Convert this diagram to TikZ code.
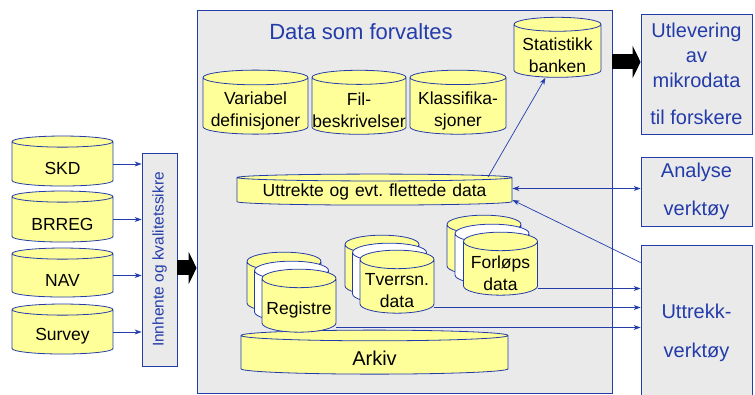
\documentclass[tikz,border=0pt]{standalone}
\usepackage{fontspec}
\setmainfont{Liberation Sans}
\usetikzlibrary{shapes.geometric,arrows.meta}
\definecolor{dbblue}{RGB}{35,60,170}
\definecolor{dbyellow}{RGB}{255,255,153}
\definecolor{dbgray}{RGB}{234,234,234}
\tikzset{
  db/.style={cylinder, shape border rotate=90, draw=dbblue, fill=dbyellow,
    line width=0.8pt, inner sep=0pt, align=center,
    font=\fontsize{17.5}{22}\selectfont},
  dbmid/.style={db, fill=white},
  dbsize/.style 2 args={text width=#1, minimum width=#1, minimum height=#2},
  dbtext/.style={label={[font=\fontsize{17.5}{22}\selectfont, align=center, yshift=-4.5pt]center:#1}},
  panel/.style={rectangle, draw=dbblue, fill=dbgray, line width=0.8pt,
    inner sep=0pt, align=center, text=dbblue},
  flow/.style={draw=dbblue, line width=0.7pt, -{Stealth[length=7pt,width=5pt]}},
  bigarrow/.style={line width=15pt, -{Triangle[length=8pt,width=32pt]}}
}
\begin{document}
\begin{tikzpicture}[x=1pt,y=-1pt]
  \useasboundingbox (0,0) rectangle (755,395);
  % main area
  \node[panel, minimum width=415pt, minimum height=383pt] (main) at (404.5,201.5) {};
  \node[text=dbblue, font=\fontsize{22}{26}\selectfont] (title) at (361,32) {Data som forvaltes};
  % sources
  \node[db, dbsize={101pt}{50pt}, aspect=0.11, dbtext=SKD] (skd) at (62.5,164) {};
  \node[db, dbsize={101pt}{51pt}, aspect=0.11, dbtext=BRREG] (brreg) at (62.5,219.5) {};
  \node[db, dbsize={101pt}{49pt}, aspect=0.11, dbtext=NAV] (nav) at (62.5,275.5) {};
  \node[db, dbsize={101pt}{50pt}, aspect=0.11, dbtext=Survey] (survey) at (62.5,332) {};
  \node[panel, minimum width=35pt, minimum height=213pt] (innh) at (159.5,259.5) {};
  \node[rotate=90, text=dbblue, font=\fontsize{15.5}{18}\selectfont] (innhtxt) at (innh) {Innhente og kvalitetssikre};
  \draw[flow] (skd.east) -- (skd.east -| innh.west);
  \draw[flow] (brreg.east) -- (brreg.east -| innh.west);
  \draw[flow] (nav.east) -- (nav.east -| innh.west);
  \draw[flow] (survey.east) -- (survey.east -| innh.west);
  \coordinate (inleft) at (177,268);
  \draw[bigarrow] (inleft) -- (inleft -| main.west);
  % metadata
  \node[db, dbsize={105pt}{64pt}, aspect=0.14, dbtext={Variabel\\definisjoner}] (var) at (255.5,106) {};
  \node[db, dbsize={94pt}{64pt}, aspect=0.15, dbtext={Fil-\\beskrivelser}] (fil) at (359,106) {};
  \node[db, dbsize={96pt}{64pt}, aspect=0.15, dbtext={Klassifika-\\sjoner}] (klass) at (458,106) {};
  \node[db, dbsize={87pt}{60pt}, aspect=0.16, dbtext={Statistikk\\banken}] (stat) at (557.5,51) {};
  \node[db, dbsize={275pt}{31pt}, aspect=0.025] (utt) at (374.5,191.5) {Uttrekte og evt.\ flettede data};
  % data stacks
  \node[db, dbsize={267pt}{44pt}, aspect=0.04, label={[font=\fontsize{20}{24}\selectfont, yshift=-3pt]center:Arkiv}] (arkiv) at (374.5,355) {};
  \node[db, dbsize={74pt}{60pt}, aspect=0.25] (reg1) at (284,287) {};
  \node[dbmid, dbsize={74pt}{60pt}, aspect=0.25] (reg2) at (291.5,296) {};
  \node[db, dbsize={74pt}{63pt}, aspect=0.25, dbtext=Registre] (reg) at (299,305.5) {};
  \node[db, dbsize={74pt}{60pt}, aspect=0.25] (tv1) at (382,270) {};
  \node[dbmid, dbsize={74pt}{60pt}, aspect=0.25] (tv2) at (389.5,278) {};
  \node[db, dbsize={74pt}{63pt}, aspect=0.25, dbtext={Tverrsn.\\data}] (tv) at (397,286.5) {};
  \node[db, dbsize={74pt}{60pt}, aspect=0.25] (fl1) at (484,250) {};
  \node[dbmid, dbsize={74pt}{60pt}, aspect=0.25] (fl2) at (492,259) {};
  \node[db, dbsize={74pt}{63pt}, aspect=0.25, dbtext={Forløps\\data}] (fl) at (500.5,268.5) {};
  % users
  \node[panel, minimum width=111pt, minimum height=120pt, font=\fontsize{20}{25}\selectfont] (utlev) at (696.5,74) {Utlevering\\av\\mikrodata\\[12pt]til forskere};
  \node[panel, minimum width=111pt, minimum height=69pt, font=\fontsize{20}{38}\selectfont] (anal) at (696.5,191.5) {Analyse\\verktøy};
  \node[panel, minimum width=111pt, minimum height=175pt, font=\fontsize{20}{39}\selectfont] (uttr) at (696.5,332.5) {Uttrekk-\\verktøy};
  \coordinate (outleft) at (612,62);
  \draw[bigarrow] (outleft) -- (outleft -| utlev.west);
  % flows inside
  \coordinate (uttup) at (488,177);
  \draw[flow] (uttup) -- ([xshift=-12pt]stat.south);
  \draw[flow, {Stealth[length=7pt,width=5pt]}-{Stealth[length=7pt,width=5pt]}] ([yshift=3pt]utt.east) -- ([yshift=3pt]utt.east -| anal.west);
  \draw[flow] ([yshift=-18pt]uttr.north west) -- ([yshift=-8.5pt]utt.east);
  \draw[flow] ([yshift=-20pt]fl.east) -- ([yshift=-20pt]fl.east -| uttr.west);
  \draw[flow] ([yshift=-21pt]tv.east) -- ([yshift=-21pt]tv.east -| uttr.west);
  \draw[flow] ([yshift=-22pt]reg.east) -- ([yshift=-22pt]reg.east -| uttr.west);
\end{tikzpicture}
\end{document}
